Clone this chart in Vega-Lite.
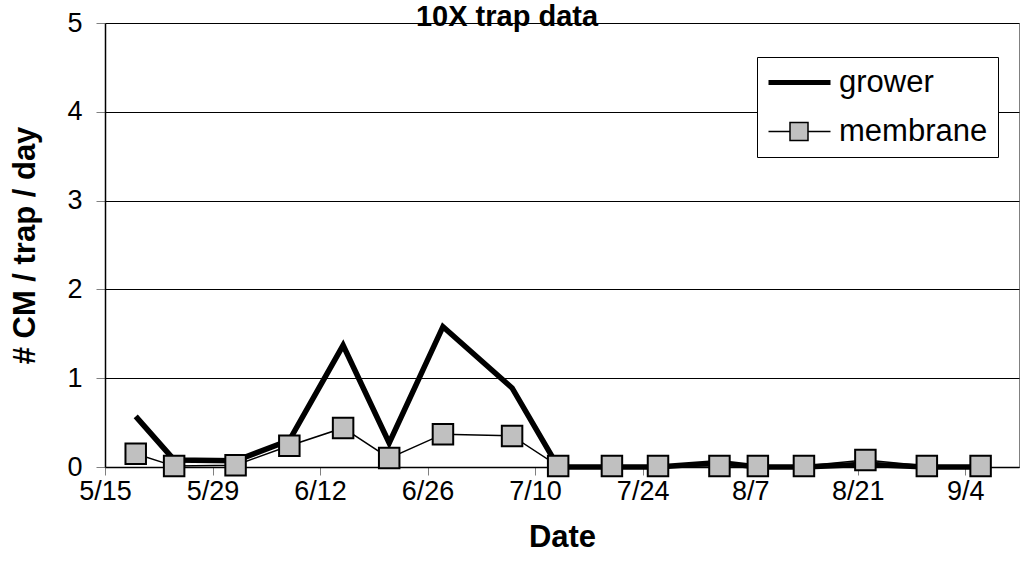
{
  "$schema": "https://vega.github.io/schema/vega-lite/v6.json",
  "width": 914,
  "height": 444,
  "autosize": "none",
  "padding": {"left": 105, "top": 23, "right": 1, "bottom": 112},
  "background": "white",
  "config": {
    "font": "Liberation Sans",
    "view": {"stroke": "#808080", "strokeWidth": 1}
  },
  "title": {
    "text": "10X trap data",
    "font": "Liberation Sans",
    "fontSize": 29,
    "fontWeight": "bold",
    "color": "black",
    "anchor": "middle",
    "frame": "group",
    "dx": -55,
    "dy": 46,
    "baseline": "alphabetic",
    "offset": 0
  },
  "data": {
    "values": [
      {"date": "2005/05/19", "series": "grower", "value": 0.57},
      {"date": "2005/05/24", "series": "grower", "value": 0.08},
      {"date": "2005/06/01", "series": "grower", "value": 0.07},
      {"date": "2005/06/08", "series": "grower", "value": 0.30},
      {"date": "2005/06/15", "series": "grower", "value": 1.37},
      {"date": "2005/06/21", "series": "grower", "value": 0.27},
      {"date": "2005/06/28", "series": "grower", "value": 1.58},
      {"date": "2005/07/07", "series": "grower", "value": 0.89},
      {"date": "2005/07/13", "series": "grower", "value": 0},
      {"date": "2005/07/20", "series": "grower", "value": 0},
      {"date": "2005/07/26", "series": "grower", "value": 0},
      {"date": "2005/08/03", "series": "grower", "value": 0.05},
      {"date": "2005/08/08", "series": "grower", "value": 0},
      {"date": "2005/08/14", "series": "grower", "value": 0},
      {"date": "2005/08/22", "series": "grower", "value": 0.03},
      {"date": "2005/08/30", "series": "grower", "value": 0},
      {"date": "2005/09/06", "series": "grower", "value": 0},
      {"date": "2005/05/19", "series": "membrane", "value": 0.15},
      {"date": "2005/05/24", "series": "membrane", "value": 0.01},
      {"date": "2005/06/01", "series": "membrane", "value": 0.02},
      {"date": "2005/06/08", "series": "membrane", "value": 0.24},
      {"date": "2005/06/15", "series": "membrane", "value": 0.44},
      {"date": "2005/06/21", "series": "membrane", "value": 0.10},
      {"date": "2005/06/28", "series": "membrane", "value": 0.37},
      {"date": "2005/07/07", "series": "membrane", "value": 0.35},
      {"date": "2005/07/13", "series": "membrane", "value": 0.01},
      {"date": "2005/07/20", "series": "membrane", "value": 0.01},
      {"date": "2005/07/26", "series": "membrane", "value": 0.01},
      {"date": "2005/08/03", "series": "membrane", "value": 0.01},
      {"date": "2005/08/08", "series": "membrane", "value": 0.01},
      {"date": "2005/08/14", "series": "membrane", "value": 0.01},
      {"date": "2005/08/22", "series": "membrane", "value": 0.08},
      {"date": "2005/08/30", "series": "membrane", "value": 0.01},
      {"date": "2005/09/06", "series": "membrane", "value": 0.01}
    ]
  },
  "encoding": {
    "x": {
      "field": "date",
      "type": "temporal",
      "scale": {"domain": ["2005/05/15", "2005/09/11"]},
      "axis": {
        "title": "Date",
        "titleFont": "Liberation Sans",
        "titleFontSize": 31,
        "titleFontWeight": "bold",
        "titleColor": "black",
        "titlePadding": 18,
        "values": ["2005/05/15", "2005/05/29", "2005/06/12", "2005/06/26", "2005/07/10", "2005/07/24", "2005/08/07", "2005/08/21", "2005/09/04"],
        "format": "%-m/%-d",
        "labelFont": "Liberation Sans",
        "labelFontSize": 27,
        "labelColor": "black",
        "labelPadding": 3,
        "labelFlush": false,
        "labelOverlap": false,
        "tickSize": 8,
        "tickColor": "#808080",
        "tickWidth": 1,
        "domainColor": "black",
        "domainWidth": 1.5,
        "grid": false
      }
    },
    "y": {
      "field": "value",
      "type": "quantitative",
      "scale": {"domain": [0, 5], "nice": false},
      "axis": {
        "title": "# CM / trap / day",
        "titleFont": "Liberation Sans",
        "titleFontSize": 31,
        "titleFontWeight": "bold",
        "titleColor": "black",
        "titlePadding": 25,
        "values": [0, 1, 2, 3, 4, 5],
        "labelFont": "Liberation Sans",
        "labelFontSize": 27,
        "labelColor": "black",
        "labelPadding": 14,
        "tickSize": 9,
        "tickColor": "#808080",
        "domainColor": "black",
        "domainWidth": 1.5,
        "grid": true,
        "gridColor": "black",
        "gridWidth": 1
      }
    }
  },
  "layer": [
    {
      "transform": [{"filter": "datum.series === 'grower'"}],
      "mark": {"type": "line", "strokeWidth": 5.5, "strokeJoin": "miter"},
      "encoding": {
        "color": {
          "field": "series",
          "type": "nominal",
          "scale": {"domain": ["grower", "membrane"], "range": ["black", "black"]},
          "legend": {
            "title": null,
            "orient": "none",
            "legendX": 652,
            "legendY": 34,
            "direction": "vertical",
            "strokeColor": "black",
            "fillColor": "white",
            "padding": 10,
            "labelFont": "Liberation Sans",
            "labelFontSize": 31,
            "labelColor": "black",
            "labelOffset": 41,
            "rowPadding": 17,
            "symbolSize": 400,
            "encode": {
              "symbols": {
                "update": {
                  "shape": {"signal": "datum.value === 'grower' ? 'M-1.4,0H4.8' : 'M-1.4,0H0.75M0.75,-0.9H2.55V0.9H0.75ZM2.55,0H4.8'"},
                  "strokeWidth": {"signal": "datum.value === 'grower' ? 5 : 1.5"},
                  "stroke": {"value": "black"},
                  "fill": {"value": "#c0c0c0"},
                  "size": {"value": 400},
                  "opacity": {"value": 1}
                }
              }
            }
          }
        }
      }
    },
    {
      "transform": [{"filter": "datum.series === 'membrane'"}],
      "mark": {"type": "line", "strokeWidth": 1.5},
      "encoding": {
        "color": {"field": "series", "type": "nominal"}
      }
    },
    {
      "transform": [{"filter": "datum.series === 'membrane'"}],
      "mark": {"type": "point", "shape": "square", "size": 420, "filled": true, "fill": "#c0c0c0", "stroke": "black", "strokeWidth": 2, "opacity": 1}
    }
  ]
}
